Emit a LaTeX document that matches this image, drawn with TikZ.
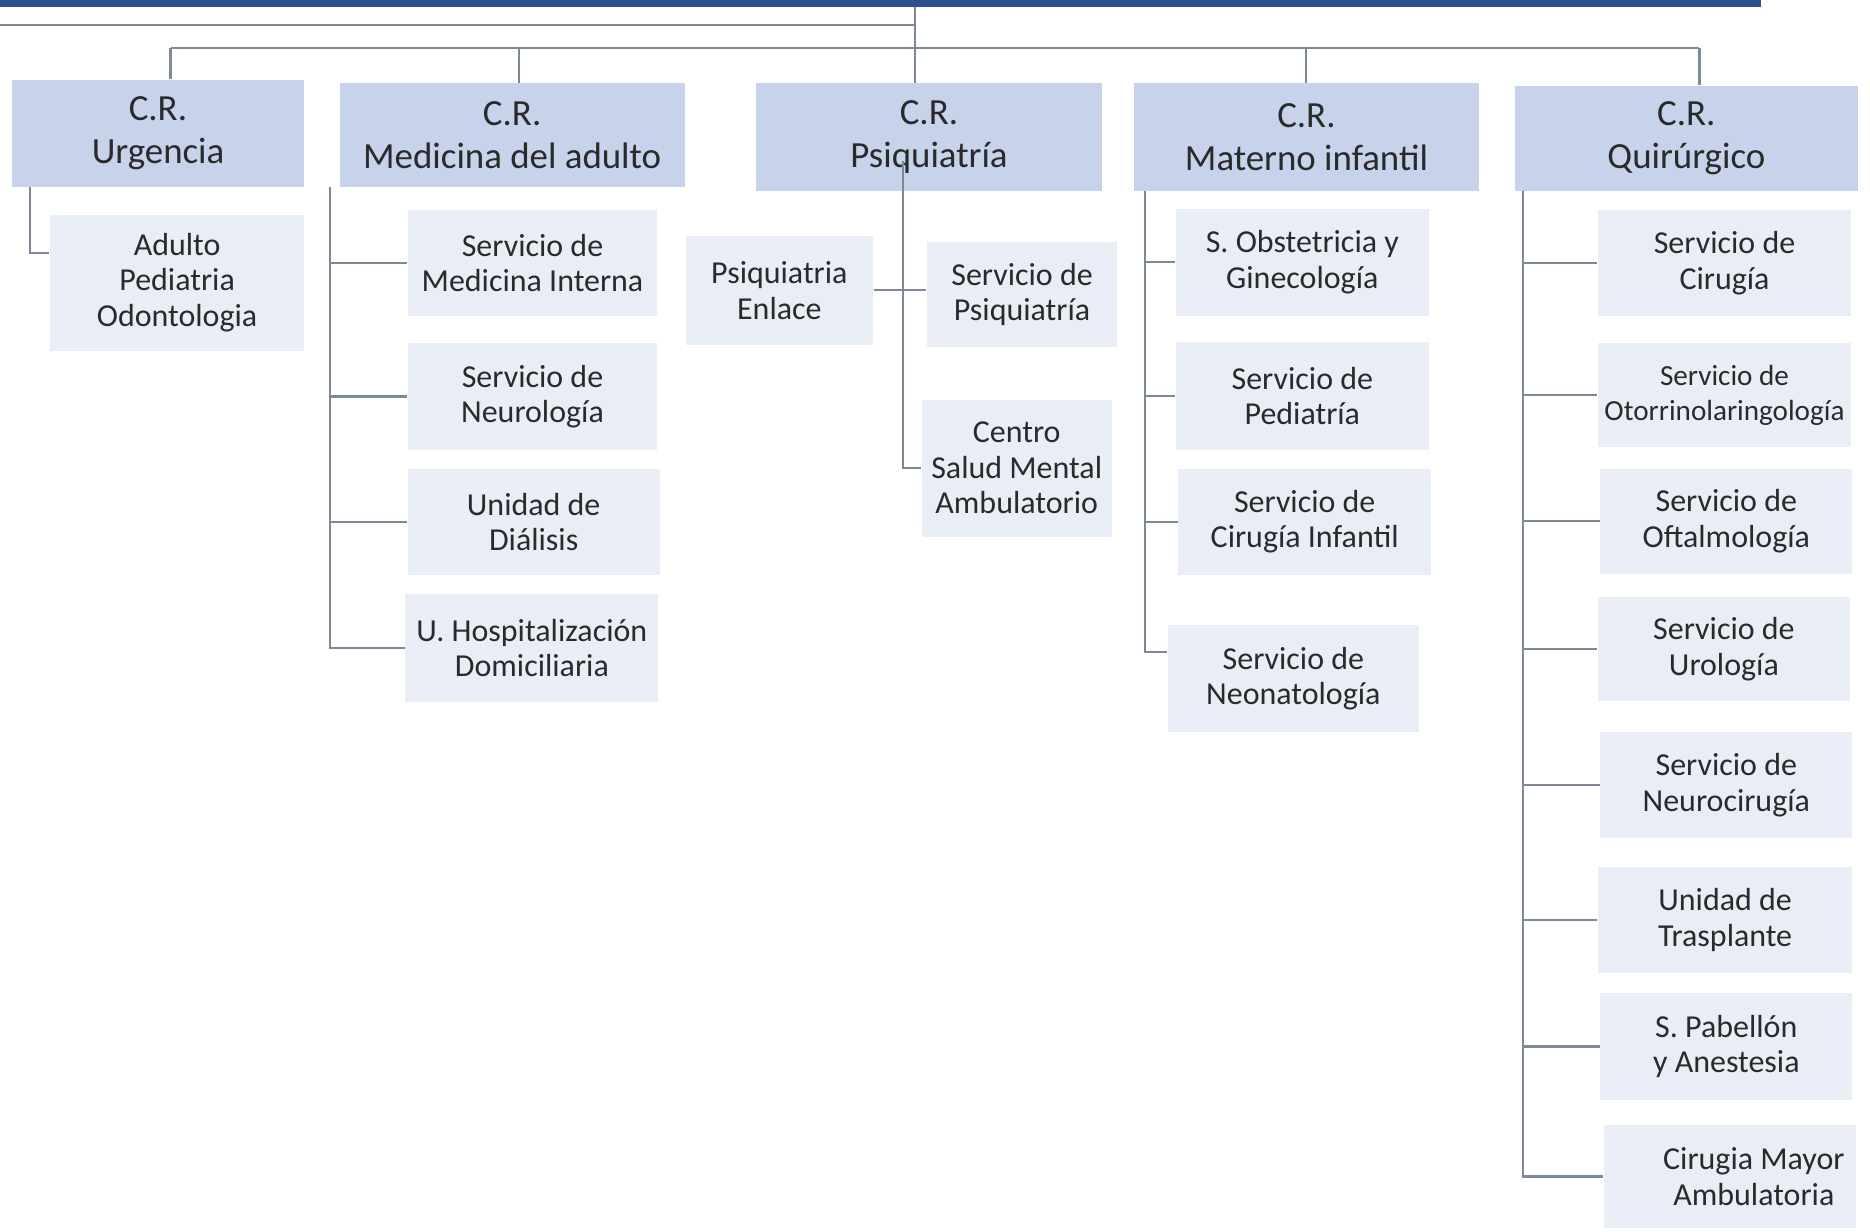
\documentclass[tikz,border=0pt]{standalone}
\usepackage{fontspec}
\setmainfont{Carlito}

\definecolor{barblue}{HTML}{2F4E8C}
\definecolor{crfill}{HTML}{C6D3EA}
\definecolor{srvfill}{HTML}{E9EEF6}
\definecolor{linegray}{HTML}{7D8898}
\definecolor{txtgray}{HTML}{2A2A2A}

\begin{document}
\begin{tikzpicture}[x=0.011926cm, y=-0.011926cm]

\newlength{\ux}
\setlength{\ux}{0.011926cm}

%\path (0,0) grid[step=100] (1568,1033);
\useasboundingbox (0,0) rectangle (1568,1033);

% styles
\pgfkeys{/box/.style={inner sep=0, align=center, text=txtgray}} % base style for boxes
\pgfkeys{/cr/.style={/box, fill=crfill, font=\fontsize{10.5}{12.2}\selectfont}} % centros de responsabilidad
\pgfkeys{/srv/.style={/box, fill=srvfill, font=\fontsize{9.1}{10.1}\selectfont}} % servicios / unidades
\pgfkeys{/size/.style 2 args={minimum width=#1*\ux, minimum height=#2*\ux}} % box size in px
\pgfkeys{/link/.style={draw=linegray, line width=0.6pt}} % connectors

% top bar
\fill[barblue] (0,0) rectangle (1477,6);
\coordinate (top) at (767,6);
\coordinate (left) at (0,21);
\coordinate (busL) at (143,40);
\coordinate (busR) at (1425,40);

% main row of C.R.
\node[/cr, /size={245}{90}] (urg) at (132.5,112) {C.R.\\Urgencia};
\node[/cr, /size={289}{87}] (med) at (429.5,113.5) {C.R.\\Medicina del adulto};
\node[/cr, /size={290}{90}] (psq) at (779,115) {C.R.\\Psiquiatría};
\node[/cr, /size={289}{90}] (mat) at (1095.5,115) {C.R.\\Materno infantil};
\node[/cr, /size={288}{88}] (qui) at (1414,116) {C.R.\\Quirúrgico};

% urgencia
\node[/srv, /size={213}{114}] (urgA) at (148.5,237) {Adulto\\Pediatria\\Odontologia};

% medicina del adulto
\node[/srv, /size={209}{89}] (med1) at (446.5,220.5) {Servicio de\\Medicina Interna};
\node[/srv, /size={209}{89}] (med2) at (446.5,332.5) {Servicio de\\Neurología};
\node[/srv, /size={211}{89}] (med3) at (447.5,437.5) {Unidad de\\Diálisis};
\node[/srv, /size={212}{91}] (med4) at (446,543.5) {U. Hospitalización\\Domiciliaria};

% psiquiatria
\node[/srv, /size={157}{91}] (psqE) at (653.5,243.5) {Psiquiatria\\Enlace};
\node[/srv, /size={160}{88}] (psq1) at (857,247) {Servicio de\\Psiquiatría};
\node[/srv, /size={159}{115}] (psq2) at (852.5,392.5) {Centro\\Salud Mental\\Ambulatorio};

% materno infantil
\node[/srv, /size={212}{90}] (mat1) at (1092,220) {S. Obstetricia y\\Ginecología};
\node[/srv, /size={212}{90}] (mat2) at (1092,332) {Servicio de\\Pediatría};
\node[/srv, /size={212}{89}] (mat3) at (1094,437.5) {Servicio de\\Cirugía Infantil};
\node[/srv, /size={211}{90}] (mat4) at (1084.5,569) {Servicio de\\Neonatología};

% quirurgico
\node[/srv, /size={212}{89}] (qui1) at (1446,220.5) {Servicio de\\Cirugía};
\node[/srv, /size={212}{87}, font=\fontsize{8.3}{10.1}\selectfont] (qui2) at (1446,331.5) {Servicio de\\Otorrinolaringología};
\node[/srv, /size={211}{88}] (qui3) at (1447.5,437) {Servicio de\\Oftalmología};
\node[/srv, /size={211}{87}] (qui4) at (1445.5,544.5) {Servicio de\\Urología};
\node[/srv, /size={211}{89}] (qui5) at (1447.5,658.5) {Servicio de\\Neurocirugía};
\node[/srv, /size={213}{89}] (qui6) at (1446.5,771.5) {Unidad de\\Trasplante};
\node[/srv, /size={211}{89}] (qui7) at (1447.5,877.5) {S. Pabellón\\y Anestesia};
\node[/srv, /size={211}{87}] (qui8) at (1450.5,986.5) {\hspace*{0.48cm}Cirugia Mayor\\\hspace*{0.48cm}Ambulatoria};

% order 1: bar to C.R.
\draw[/link] (left) -- (left -| top);
\draw[/link] (top) -- (top |- psq.north);
\draw[/link] (busL) -- (busR);
\foreach \n/\x in {urg/143, med/435, mat/1095, qui/1425} {
\coordinate (d\n) at (\x,40);
\draw[/link] (d\n) -- (d\n |- \n.north); % drop to each C.R.
}

% order 2: C.R. to servicios
\coordinate (urgt) at (25,157);
\draw[/link] (urgt) |- ([yshift=0.3cm]urgA.west);
\coordinate (medt) at (277,157);
\foreach \i in {1,...,4} {
\draw[/link] (medt) |- (med\i.west); % trunk and branch
}
\coordinate (psqt) at (757,135);
\draw[/link] (psqt) |- (psq2.west);
\draw[/link] (psqE.east) -- (psqE.east -| psq1.west);
\coordinate (matt) at (960,160);
\foreach \i in {1,...,3} {
\draw[/link] (matt) |- (mat\i.west);
}
\draw[/link] (matt) |- ([yshift=0.27cm]mat4.west);
\coordinate (quit) at (1277,160);
\foreach \i in {1,...,8} {
\draw[/link] (quit) |- (qui\i.west);
}

\end{tikzpicture}
\end{document}
